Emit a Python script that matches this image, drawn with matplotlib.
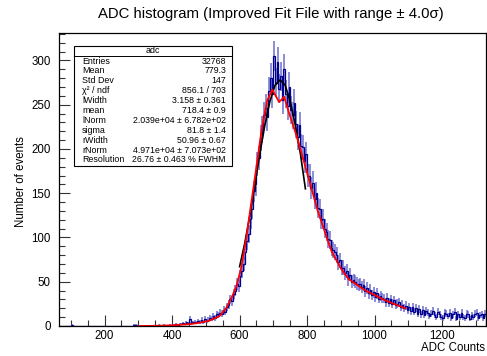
import numpy as np
import matplotlib
matplotlib.use("Agg")
import matplotlib.pyplot as plt
from matplotlib.patches import Rectangle
from matplotlib.lines import Line2D
from matplotlib.ticker import MultipleLocator

plt.rcParams['font.family'] = ['Liberation Sans', 'DejaVu Sans']

# ADC histogram: 5-count bins from 65 to 1330
bin_lo = 65
bin_width = 5
counts = [
    0, 0, 0, 0, 0, 0, 0, 1, 0, 0,
    0, 0, 0, 0, 0, 0, 0, 0, 0, 0,
    0, 0, 0, 0, 0, 0, 0, 0, 0, 0,
    0, 0, 0, 0, 0, 0, 0, 0, 0, 0,
    0, 0, 0, 0, 1, 1, 0, 0, 0, 0,
    0, 0, 0, 0, 0, 0, 0, 0, 0, 1,
    0, 0, 1, 0, 0, 1, 0, 1, 1, 2,
    1, 2, 2, 3, 2, 4, 3, 8, 3, 4,
    5, 4, 6, 5, 7, 5, 8, 6, 7, 9,
    8, 11, 9, 13, 12, 15, 14, 18, 16, 21,
    24, 30, 28, 36, 40, 47, 45, 56, 62, 70,
    84, 96, 104, 121, 132, 152, 160, 183, 190, 212,
    222, 238, 246, 236, 265, 280, 262, 305, 275, 298,
    268, 282, 255, 290, 262, 248, 270, 244, 238, 252,
    228, 214, 227, 203, 202, 186, 194, 170, 170, 156,
    162, 144, 150, 133, 132, 120, 121, 110, 106, 98,
    97, 88, 86, 84, 80, 72, 74, 66, 66, 60,
    62, 53, 58, 50, 52, 50, 48, 46, 47, 44,
    46, 39, 43, 37, 41, 35, 38, 33, 37, 31,
    34, 32, 31, 27, 32, 26, 30, 25, 29, 24,
    25, 27, 21, 24, 20, 23, 18, 21, 17, 21,
    16, 20, 14, 19, 13, 18, 12, 17, 15, 11,
    14, 17, 12, 10, 16, 13, 10, 9, 15, 14,
    11, 15, 9, 13, 16, 8, 13, 10, 15, 10,
    9, 14, 13, 8, 12, 10, 14, 15, 9, 12,
    13, 9, 14,
]

# Full fit function (red) sampled along ADC
fit_x = [300, 350, 400, 450, 480, 510, 540, 560, 575, 590, 605, 620, 635, 650,
         665, 682, 697, 707, 717, 725, 732, 747, 767, 786, 806, 830, 859, 873,
         900, 923, 950, 973, 1000, 1020, 1050, 1091]
fit_y = [0.0, 0.2, 0.8, 2.0, 3.5, 6, 11, 20, 31, 44, 66, 100, 140, 180,
         221, 255, 267, 260, 253, 256, 259, 240, 217, 192, 165, 132, 99, 84,
         65, 53, 46, 40, 35, 31, 26, 20]

# Core Gaussian fit (black)
gaus_x = [600, 615, 630, 645, 660, 675, 690, 705, 720, 735, 750, 765, 780, 795]
gaus_y = [67, 93, 124, 159, 195, 227, 254, 272, 278, 272, 254, 227, 195, 155]

stats_labels = ["Entries", "Mean", "Std Dev", "χ² / ndf", "lWidth", "mean",
                "lNorm", "sigma", "rWidth", "rNorm", "Resolution"]
stats_values = ["32768", "779.3", "147", "856.1 / 703", "3.158 ± 0.361",
                "718.4 ± 0.9", "2.039e+04 ± 6.782e+02", "81.8 ± 1.4",
                "50.96 ± 0.67", "4.971e+04 ± 7.073e+02", "26.76 ± 0.463 % FWHM"]

W, H = 487, 356
fig = plt.figure(figsize=(W / 100, H / 100), dpi=100)
ax = fig.add_axes([59 / W, (H - 326) / H, (486 - 59) / W, (326 - 33) / H])

counts = np.array(counts, dtype=float)
edges = bin_lo + bin_width * np.arange(len(counts) + 1)
centers = 0.5 * (edges[:-1] + edges[1:])
err = np.sqrt(counts)
nz = counts > 0

ax.vlines(centers[nz], (counts - err)[nz], (counts + err)[nz],
          colors='#5c5cc8', lw=1.3, alpha=0.75, zorder=2)
ax.stairs(counts, edges, color='#00008f', lw=0.9, zorder=3)
ax.plot(gaus_x, gaus_y, color='black', lw=1.2, zorder=4)
ax.plot(fit_x, fit_y, color='#ff0000', lw=1.3, zorder=5)

ax.set_xlim(65, 1330)
ax.set_ylim(0, 331)

ax.xaxis.set_major_locator(MultipleLocator(200))
ax.xaxis.set_minor_locator(MultipleLocator(50))
ax.yaxis.set_major_locator(MultipleLocator(50))
ax.yaxis.set_minor_locator(MultipleLocator(10))
ax.tick_params(which='both', direction='in', top=False, right=False,
               labelsize=8.3, width=0.8, color='#333333')
ax.tick_params(which='major', length=8)
ax.tick_params(which='minor', length=4)
ax.tick_params(axis='x', pad=3)
ax.tick_params(axis='y', pad=6)
for s in ax.spines.values():
    s.set_linewidth(0.9)
    s.set_zorder(6)

fig.text(271 / W, 1 - 14 / H, "ADC histogram (Improved Fit File with range ± 4.0σ)",
         ha='center', va='center', fontsize=10.7)
fig.text(485 / W, 1 - 348 / H, "ADC Counts", ha='right', va='center', fontsize=8.3)
fig.text(21 / W, 1 - 182 / H, "Number of events", ha='center', va='center',
         rotation=90, fontsize=8.3)

# statistics box
bx0, bx1, by0, by1 = 74, 232, 46, 166
fig.patches.append(Rectangle((bx0 / W, 1 - by1 / H), (bx1 - bx0) / W, (by1 - by0) / H,
                             transform=fig.transFigure, facecolor='white',
                             edgecolor='black', lw=0.8, zorder=10))
fig.lines.append(Line2D([bx0 / W, bx1 / W], [1 - 55.5 / H, 1 - 55.5 / H],
                        transform=fig.transFigure, color='black', lw=0.7, zorder=11))
fig.text((bx0 + bx1) / 2 / W, 1 - 50.5 / H, "adc", ha='center', va='center',
         fontsize=6.4, zorder=12)
row_y0, row_dy = 61, 9.9
for i, (lab, val) in enumerate(zip(stats_labels, stats_values)):
    yy = 1 - (row_y0 + i * row_dy) / H
    fig.text(82 / W, yy, lab, ha='left', va='center', fontsize=6.4, zorder=12)
    fig.text(226 / W, yy, val, ha='right', va='center', fontsize=6.3, zorder=12)

fig.savefig("out.png", dpi=100)
